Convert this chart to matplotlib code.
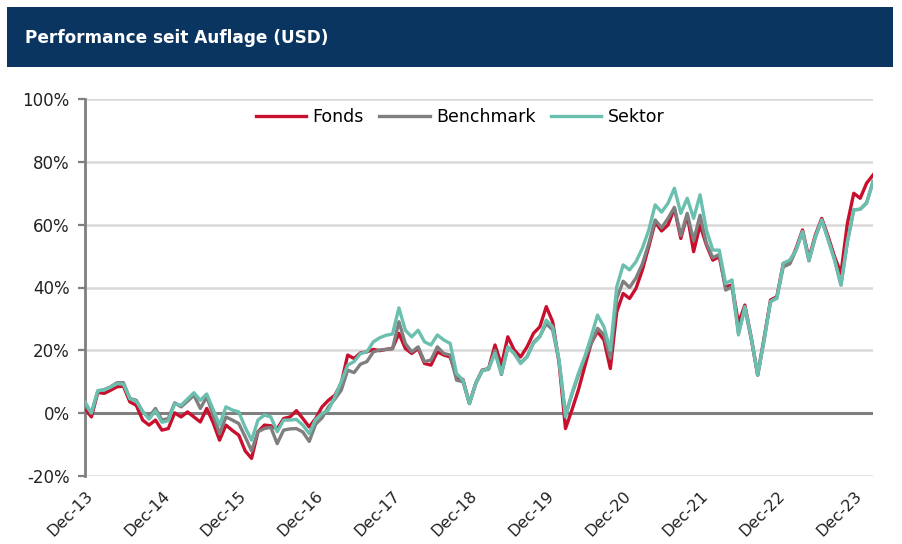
import matplotlib
matplotlib.use("Agg")
import matplotlib.pyplot as plt
from matplotlib.patches import Rectangle
from matplotlib.ticker import FuncFormatter

plt.rcParams['font.family'] = ['DejaVu Sans']

tick_labels = ["Dec-13", "Dec-14", "Dec-15", "Dec-16", "Dec-17", "Dec-18",
               "Dec-19", "Dec-20", "Dec-21", "Dec-22", "Dec-23"]

fonds = [
    1.5, -1.2, 6.6, 6.3, 7.3, 8.4, 8.6, 3.6, 2.5, -2.2, -3.8, -2.2,
    -5.4, -4.9, 0.1, -1.2, 0.4, -1.2, -2.8, 1.5, -3.0, -8.6, -3.8, -5.5,
    -7.0, -12.0, -14.4, -5.9, -3.8, -4.0, -5.0, -1.7, -1.2, 0.8, -1.7, -4.4,
    -1.7, 2.0, 4.1, 5.7, 9.5, 18.5, 17.4, 19.2, 19.5, 20.3, 19.9, 20.3,
    20.6, 25.4, 20.6, 19.0, 20.6, 15.8, 15.3, 19.5, 18.5, 17.9, 11.6, 10.7,
    3.1, 9.5, 13.7, 14.2, 21.7, 15.3, 24.3, 20.1, 17.9, 21.1, 25.4, 27.5,
    33.9, 29.1, 16.0, -4.9, 1.0, 7.3, 14.8, 22.2, 26.0, 23.3, 14.2, 32.3,
    38.1, 36.5, 39.7, 45.6, 53.0, 60.8, 58.0, 59.9, 65.2, 55.6, 63.1, 51.4,
    59.9, 53.5, 48.7, 49.8, 40.2, 40.8, 28.6, 34.4, 24.0, 12.1, 23.5, 36.0,
    37.1, 47.7, 47.7, 52.5, 58.3, 49.3, 56.7, 62.0, 56.2, 49.8, 44.5, 60.4,
    70.0, 68.4, 73.2, 75.8,
]

benchmark = [
    2.5, 0.0, 7.0, 7.5, 8.4, 9.7, 9.7, 4.7, 4.1, 0.4, -1.2, 1.5,
    -2.2, -1.7, 3.3, 2.0, 3.8, 5.7, 1.5, 5.2, -0.5, -6.5, -1.2, -2.2,
    -3.3, -7.5, -12.0, -5.9, -4.9, -4.5, -9.7, -5.4, -5.0, -4.9, -6.0, -9.0,
    -3.5, -1.5, 2.0, 4.5, 7.3, 13.7, 12.9, 15.6, 16.4, 19.5, 20.1, 20.3,
    20.5, 29.1, 22.2, 19.5, 21.1, 16.4, 16.9, 21.1, 19.0, 18.5, 10.5, 10.0,
    3.1, 9.5, 13.5, 14.0, 20.0, 12.3, 21.0, 19.0, 16.0, 18.0, 22.5, 24.5,
    28.5, 26.5, 16.5, -0.5, 6.0, 12.0, 17.5, 22.0, 27.0, 25.0, 17.5, 36.5,
    42.0, 40.0, 43.0, 47.5, 54.0, 61.5, 59.0, 62.0, 65.5, 56.5, 63.6, 55.0,
    63.0, 54.0, 49.5, 50.5, 39.2, 40.2, 25.5, 33.5, 23.5, 12.3, 24.0, 35.5,
    37.0, 46.6, 47.5, 52.0, 57.8, 48.5, 56.0, 61.5, 55.5, 49.0, 40.8, 54.5,
    64.7, 64.9, 67.0, 73.7,
]

sektor = [
    3.6, 0.0, 7.2, 7.4, 8.3, 9.4, 9.2, 4.6, 3.8, 0.6, -1.9, 0.8,
    -2.9, -2.4, 3.0, 2.5, 4.5, 6.5, 4.1, 6.1, 1.2, -3.8, 2.0, 1.0,
    0.4, -4.5, -8.6, -2.2, -0.6, -1.2, -5.9, -2.2, -2.2, -2.0, -3.8, -6.5,
    -2.0, -0.1, 1.0, 5.2, 10.0, 15.3, 16.4, 19.0, 19.5, 22.7, 24.0, 24.8,
    25.2, 33.5, 26.4, 24.3, 26.4, 22.7, 21.7, 24.9, 23.3, 22.2, 12.6, 10.5,
    3.0, 9.5, 13.5, 14.2, 19.0, 12.6, 21.1, 19.0, 15.8, 17.9, 22.2, 24.3,
    29.6, 27.5, 16.9, -1.2, 6.3, 12.6, 17.9, 24.3, 31.2, 27.5, 20.1, 40.2,
    47.2, 45.6, 48.2, 52.5, 58.3, 66.3, 64.0, 66.8, 71.6, 63.6, 68.4, 62.0,
    69.5, 58.3, 51.9, 51.9, 41.3, 42.4, 24.9, 33.9, 24.0, 12.1, 23.0, 35.5,
    36.5, 47.7, 48.7, 51.9, 57.8, 48.7, 56.2, 61.5, 55.1, 48.7, 40.8, 54.6,
    64.7, 64.9, 66.8, 73.7,
]

series_names = ["Fonds", "Benchmark", "Sektor"]
series_colors = ["#C8102E", "#7F7F7F", "#6BBFAE"]

months = list(range(len(fonds)))
tick_pos = [12 * k for k in range(len(tick_labels))]

fig = plt.figure(figsize=(9.03, 5.44), dpi=100)

# header banner
fig.patches.append(Rectangle((7 / 903, 1 - 67 / 544), 886 / 903, 60 / 544,
                             transform=fig.transFigure, facecolor="#0B3561",
                             edgecolor="none", zorder=0))
fig.text(25 / 903, 1 - 38 / 544, "Performance seit Auflage (USD)", color="white",
         fontsize=12.2, fontweight="bold", va="center", ha="left")

ax = fig.add_axes([85 / 903, 1 - 476 / 544, 788 / 903, 377 / 544])

for vals, name, col in zip([fonds, benchmark, sektor], series_names, series_colors):
    ax.plot(months, vals, color=col, lw=2.4, label=name, solid_joinstyle="round",
            zorder=3)

ax.set_xlim(0, len(fonds) - 1)
ax.set_ylim(-20, 100)
ax.set_yticks(range(-20, 101, 20))
ax.yaxis.set_major_formatter(FuncFormatter(lambda v, p: f"{v:.0f}%"))
ax.grid(axis="y", color="#D9D9D9", lw=1.8, zorder=0)
ax.axhline(0, color="#7F7F7F", lw=2.2, zorder=2)

for s in ["top", "right", "bottom"]:
    ax.spines[s].set_visible(False)
ax.spines["left"].set_color("#7F7F7F")
ax.spines["left"].set_linewidth(2.0)

ax.tick_params(axis="y", length=5, width=1.6, color="#7F7F7F", labelsize=12,
               labelcolor="#222222", pad=6)
ax.set_xticks(tick_pos)
ax.set_xticklabels(tick_labels, rotation=45, ha="right", rotation_mode="anchor",
                   fontsize=11.5, color="#222222")
ax.tick_params(axis="x", length=0, pad=9)

ax.legend(loc="center", bbox_to_anchor=(0.476, 0.952), ncol=3, frameon=False,
          fontsize=12.5, handlelength=2.9, columnspacing=0.9, handletextpad=0.35)

fig.savefig("out.png", dpi=100)
